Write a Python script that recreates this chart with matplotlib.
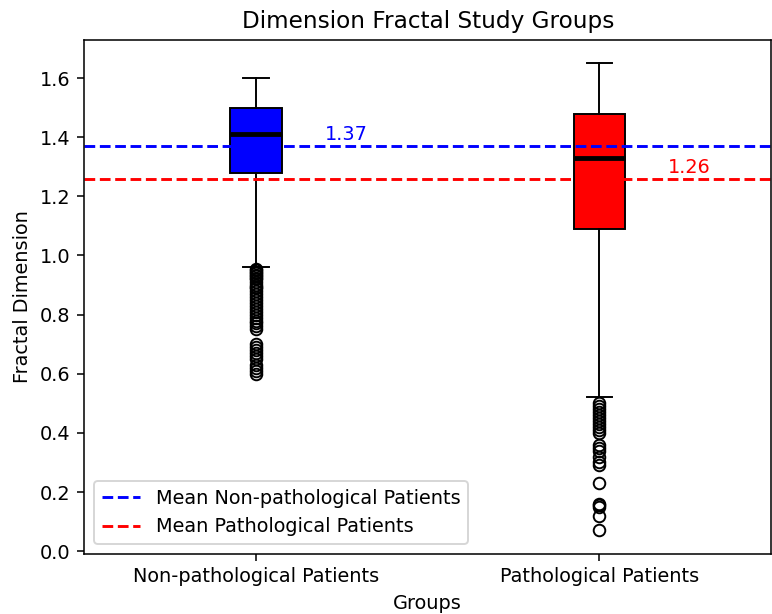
import matplotlib.pyplot as plt

# group labels and summary stats
groups = ["Non-pathological Patients", "Pathological Patients"]
box_colors = ["blue", "red"]
medians = [1.41, 1.33]
q1 = [1.28, 1.09]
q3 = [1.50, 1.48]
whis_lo = [0.96, 0.52]
whis_hi = [1.60, 1.65]
means = [1.37, 1.26]

fliers_nonpath = [0.955, 0.95, 0.945, 0.94, 0.935, 0.93, 0.925, 0.92, 0.91, 0.90,
                  0.895, 0.89, 0.88, 0.87, 0.86, 0.85, 0.84, 0.83, 0.82, 0.81,
                  0.80, 0.79, 0.78, 0.77, 0.76, 0.75,
                  0.70, 0.69, 0.68, 0.67, 0.66, 0.65, 0.63, 0.62, 0.61, 0.60]
fliers_path = [0.50, 0.49, 0.48, 0.47, 0.46, 0.45, 0.44, 0.43, 0.42, 0.41, 0.40,
               0.36, 0.35, 0.34, 0.32, 0.30, 0.29, 0.23, 0.16, 0.155, 0.15,
               0.12, 0.07]

stats = []
for i, name in enumerate(groups):
    stats.append({
        "label": name,
        "med": medians[i],
        "q1": q1[i],
        "q3": q3[i],
        "whislo": whis_lo[i],
        "whishi": whis_hi[i],
        "fliers": [fliers_nonpath, fliers_path][i],
    })

DPI = 139
fig = plt.figure(figsize=(772 / DPI, 614 / DPI), dpi=DPI)
ax = fig.add_axes([0.109, 0.098, 0.89, 0.837])

bp = ax.bxp(stats, widths=0.15, patch_artist=True,
            medianprops=dict(color="black", linewidth=2.5))
for patch, c in zip(bp["boxes"], box_colors):
    patch.set_facecolor(c)
    patch.set_edgecolor("black")

ax.axhline(means[0], color="blue", linestyle="--", linewidth=1.5,
           label="Mean Non-pathological Patients")
ax.axhline(means[1], color="red", linestyle="--", linewidth=1.5,
           label="Mean Pathological Patients")
ax.text(1.2, means[0] + 0.02, f"{means[0]:.2f}", color="blue")
ax.text(2.2, means[1] + 0.02, f"{means[1]:.2f}", color="red")

ax.set_xlim(0.5, 2.5)
ax.set_ylim(-0.009, 1.729)
ax.set_title("Dimension Fractal Study Groups")
ax.set_xlabel("Groups")
ax.set_ylabel("Fractal Dimension")
ax.legend(loc="lower left")

fig.savefig("out.png", dpi=DPI)
